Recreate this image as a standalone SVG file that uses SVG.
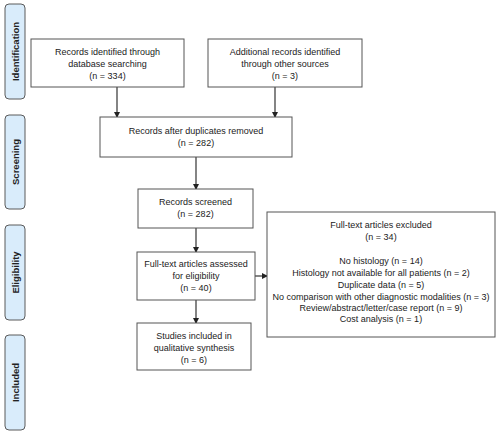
<svg xmlns="http://www.w3.org/2000/svg" width="500" height="435" viewBox="0 0 500 435">
<defs>
<marker id="ah" markerWidth="6" markerHeight="6" refX="5" refY="3" orient="auto" markerUnits="userSpaceOnUse">
<path d="M0,0 L6,3 L0,6 z" fill="#222"/>
</marker>
<style>
.box{fill:#fff;stroke:#555;stroke-width:1}
.side{fill:#d9ecfb;stroke:#5a5a5a;stroke-width:1}
.t{font-family:"Liberation Sans",Arial,sans-serif;font-size:9px;fill:#222;text-anchor:middle}
.s{font-family:"Liberation Sans",Arial,sans-serif;font-size:9.5px;font-weight:bold;fill:#222;text-anchor:middle}
.c{stroke:#333;stroke-width:1.2;fill:none;marker-end:url(#ah)}
</style>
</defs>
<rect width="500" height="435" fill="#fff"/>
<g id="side-identification"><rect class="side" x="5" y="4" width="20" height="95" rx="4"/><text class="s" transform="translate(18.5,51.5) rotate(-90)">Identification</text></g>
<g id="side-screening"><rect class="side" x="5" y="115" width="20" height="94" rx="4"/><text class="s" transform="translate(18.5,162) rotate(-90)">Screening</text></g>
<g id="side-eligibility"><rect class="side" x="5" y="225" width="20" height="95" rx="4"/><text class="s" transform="translate(18.5,272.5) rotate(-90)">Eligibility</text></g>
<g id="side-included"><rect class="side" x="5" y="335" width="20" height="95" rx="4"/><text class="s" transform="translate(18.5,382.5) rotate(-90)">Included</text></g>
<g id="connectors">
<line class="c" x1="117" y1="87" x2="117" y2="117"/>
<line class="c" x1="275" y1="87" x2="275" y2="117"/>
<line class="c" x1="196" y1="157" x2="196" y2="189"/>
<line class="c" x1="196" y1="228" x2="196" y2="252"/>
<line class="c" x1="196" y1="300" x2="196" y2="323"/>
<line class="c" x1="255" y1="276" x2="267" y2="276"/>
</g>
<g id="n-db"><rect class="box" x="31" y="39" width="153" height="48"/>
<text class="t" x="107.5" y="55">Records identified through</text>
<text class="t" x="107.5" y="67">database searching</text>
<text class="t" x="107.5" y="79">(n = 334)</text></g>
<g id="n-other"><rect class="box" x="208" y="39" width="154" height="48"/>
<text class="t" x="285" y="55">Additional records identified</text>
<text class="t" x="285" y="67">through other sources</text>
<text class="t" x="285" y="79">(n = 3)</text></g>
<g id="n-dup"><rect class="box" x="100" y="117" width="192" height="40"/>
<text class="t" x="196" y="134">Records after duplicates removed</text>
<text class="t" x="196" y="146">(n = 282)</text></g>
<g id="n-screened"><rect class="box" x="138" y="189" width="115" height="39"/>
<text class="t" x="195.5" y="205">Records screened</text>
<text class="t" x="195.5" y="217">(n = 282)</text></g>
<g id="n-fulltext"><rect class="box" x="137" y="252" width="118" height="48"/>
<text class="t" x="196" y="267">Full-text articles assessed</text>
<text class="t" x="196" y="279">for eligibility</text>
<text class="t" x="196" y="291">(n = 40)</text></g>
<g id="n-included"><rect class="box" x="137" y="323" width="114" height="47"/>
<text class="t" x="194" y="339">Studies included in</text>
<text class="t" x="194" y="351">qualitative synthesis</text>
<text class="t" x="194" y="363">(n = 6)</text></g>
<g id="n-excluded"><rect class="box" x="267" y="212" width="228" height="125"/>
<text class="t" x="381" y="228">Full-text articles excluded</text>
<text class="t" x="381" y="240">(n = 34)</text>
<text class="t" x="381" y="264">No histology (n = 14)</text>
<text class="t" x="381" y="276">Histology not available for all patients (n = 2)</text>
<text class="t" x="381" y="288">Duplicate data (n = 5)</text>
<text class="t" x="381" y="300">No comparison with other diagnostic modalities (n = 3)</text>
<text class="t" x="381" y="311">Review/abstract/letter/case report (n = 9)</text>
<text class="t" x="381" y="322">Cost analysis (n = 1)</text></g>
</svg>
